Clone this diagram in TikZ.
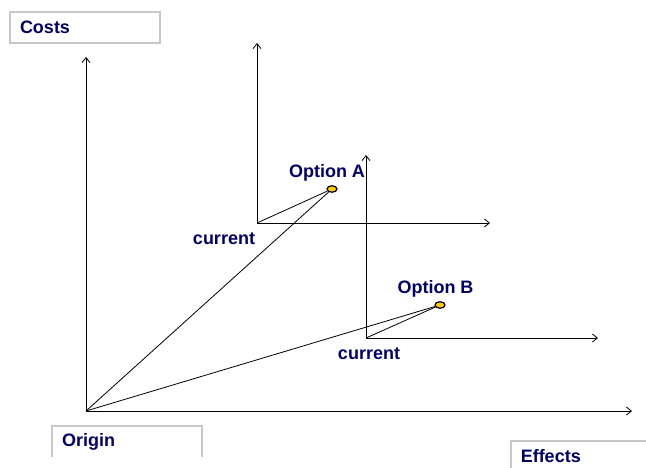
\documentclass[tikz,border=0pt]{standalone}
\usepackage{fontspec}
\setmainfont{Liberation Sans}
\usetikzlibrary{shapes.geometric, positioning, arrows.meta}
\definecolor{labelnavy}{RGB}{0,0,102}
\definecolor{framegray}{RGB}{200,200,200}
\definecolor{pointyellow}{RGB}{255,204,0}
\tikzset{
  axis/.style={line width=0.8pt, -{Straight Barb[length=5pt,width=8pt]}},
  link/.style={line width=0.8pt},
  point/.style={ellipse, draw=black, line width=1.2pt, fill=pointyellow, minimum width=10pt, minimum height=6.5pt, inner sep=0pt},
  axislabel/.style={rectangle, text width=130pt, inner xsep=10pt, minimum height=31pt, align=left, text=labelnavy, font=\fontsize{18}{21}\selectfont\bfseries},
  frame/.style={draw=framegray, line width=1.5pt},
  pointlabel/.style={text=labelnavy, inner sep=0pt, font=\fontsize{18}{21}\selectfont\bfseries}
}
\begin{document}
\begin{tikzpicture}[x=1pt, y=-1pt]
    \useasboundingbox (0,0) rectangle (646,468);
    % axis titles
    \node (costs) [axislabel, frame] at (85,27.5) {Costs};
    \node (originlbl) [axislabel] at (127,441.5) {Origin};
    \node (effects) [axislabel, frame, anchor=north west] at (510,440) {Effects};
    \draw [frame] (originlbl.south west) |- (originlbl.north east) -- (originlbl.south east);

    % main axes
    \coordinate (origin) at (86,411);
    \coordinate (costsend) at (86,57);
    \coordinate (effectsend) at (632,411);
    \draw [axis] (origin) -- (costsend);
    \draw [axis] (origin) -- (effectsend);

    % option A
    \coordinate (currentA) at (257,223);
    \coordinate (upA) at (257,43);
    \coordinate (rightA) at (490,223);
    \draw [axis] (currentA) -- (upA);
    \draw [axis] (currentA) -- (rightA);
    \node (optA) [point] at (332,189) {};
    \node (optAlbl) [pointlabel] at (327,173) {Option A};
    \node (curAlbl) [pointlabel] at (224,239) {current};

    % option B
    \coordinate (currentB) at (366,338);
    \coordinate (upB) at (366,155);
    \coordinate (rightB) at (598,338);
    \draw [axis] (currentB) -- (upB);
    \draw [axis] (currentB) -- (rightB);
    \node (optB) [point] at (440,305) {};
    \node (optBlbl) [pointlabel] at (435.5,289) {Option B};
    \node (curBlbl) [pointlabel] at (369,354) {current};

    % links to the options
    \draw [link] (origin) -- (optA);
    \draw [link] (origin) -- (optB);
    \draw [link] (currentA) -- (optA);
    \draw [link] (currentB) -- (optB);
\end{tikzpicture}
\end{document}
